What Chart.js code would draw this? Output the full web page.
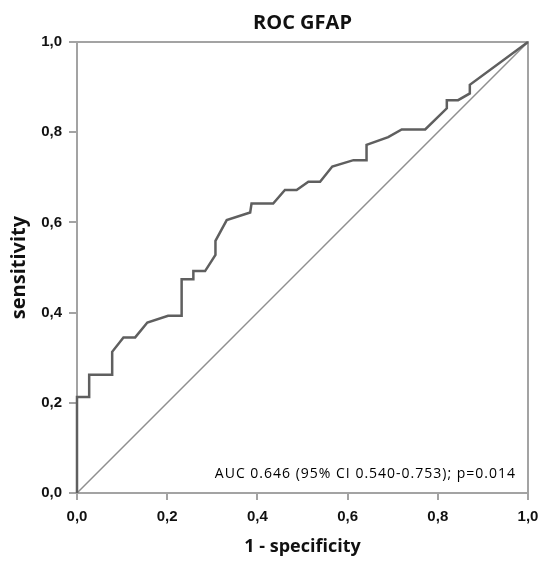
<!DOCTYPE html>
<html>
<head>
<meta charset="utf-8">
<script src="https://cdn.jsdelivr.net/npm/chart.js@4.4.1/dist/chart.umd.min.js"></script>
<style>
  html, body { margin: 0; padding: 0; background: #fff; }
  #wrap { width: 542px; height: 561px; }
</style>
</head>
<body>
<div id="wrap"><canvas id="roc"></canvas></div>
<script>
// ROC curve vertices (1 - specificity, sensitivity)
const fpr = [0, 0, 0.027, 0.027, 0.078, 0.078, 0.103, 0.129, 0.156, 0.202, 0.232, 0.232,
  0.258, 0.258, 0.284, 0.307, 0.307, 0.332, 0.384, 0.387, 0.435, 0.461, 0.487, 0.513,
  0.539, 0.566, 0.613, 0.642, 0.642, 0.690, 0.720, 0.772, 0.820, 0.820, 0.845, 0.871,
  0.871, 1];
const tpr = [0, 0.213, 0.213, 0.262, 0.262, 0.313, 0.345, 0.345, 0.378, 0.393, 0.393, 0.474,
  0.474, 0.492, 0.492, 0.528, 0.559, 0.605, 0.622, 0.642, 0.642, 0.672, 0.672, 0.690,
  0.690, 0.724, 0.738, 0.738, 0.772, 0.789, 0.806, 0.806, 0.853, 0.871, 0.871, 0.886,
  0.905, 1];
const refLine = [0, 1];
const tickValues = [0, 0.2, 0.4, 0.6, 0.8, 1.0];

const chartTitle = 'ROC GFAP';
const xTitle = '1 - specificity';
const yTitle = 'sensitivity';
const aucText = 'AUC 0.646 (95% CI 0.540-0.753); p=0.014';

const AXIS_GREY = '#a3a3a3';
const tickFont = { family: '"Liberation Sans", Arial, sans-serif', size: 15, weight: 'bold' };

// frame round the plot area (top and right sides too)
const framePlugin = {
  id: 'frame',
  beforeDatasetsDraw(chart) {
    const { ctx, chartArea: a } = chart;
    ctx.save();
    ctx.strokeStyle = AXIS_GREY;
    ctx.lineWidth = 2;
    ctx.strokeRect(a.left, a.top, a.right - a.left, a.bottom - a.top);
    ctx.restore();
  }
};

// AUC note in the lower right corner
const aucPlugin = {
  id: 'auc',
  afterDraw(chart) {
    const { ctx, chartArea: a } = chart;
    ctx.save();
    ctx.font = '14px "Open Sans", sans-serif';
    ctx.letterSpacing = '1px';
    ctx.fillStyle = '#000';
    ctx.textAlign = 'right';
    ctx.textBaseline = 'alphabetic';
    ctx.fillText(aucText, a.right - 12, a.bottom - 15);
    ctx.restore();
  }
};

const points = fpr.map((x, i) => ({ x: x, y: tpr[i] }));
const diag = refLine.map(v => ({ x: v, y: v }));

new Chart(document.getElementById('roc'), {
  type: 'scatter',
  data: {
    datasets: [
      {
        data: diag,
        showLine: true,
        borderColor: '#8f8f8f',
        borderWidth: 1.5,
        pointRadius: 0,
        order: 2
      },
      {
        data: points,
        showLine: true,
        borderColor: '#5f5f5f',
        borderWidth: 2.5,
        pointRadius: 0,
        tension: 0,
        clip: 4,
        order: 1
      }
    ]
  },
  options: {
    responsive: true,
    maintainAspectRatio: false,
    animation: false,
    events: [],
    layout: { padding: { left: 0, right: 14, top: 0, bottom: 0 } },
    plugins: {
      legend: { display: false },
      tooltip: { enabled: false },
      title: {
        display: true,
        text: chartTitle,
        fullSize: false,
        color: '#111',
        font: { family: '"Open Sans", sans-serif', size: 20, weight: 'bold' },
        padding: { top: 11, bottom: 7 }
      }
    },
    scales: {
      x: {
        type: 'linear',
        min: 0,
        max: 1,
        afterBuildTicks: (s) => { s.ticks = tickValues.map(v => ({ value: v })); },
        afterFit: (s) => { s.height = 68; s.paddingLeft = 0; s.paddingRight = 0; },
        ticks: {
          color: '#111',
          font: tickFont,
          padding: 8,
          maxRotation: 0,
          callback: (v) => v.toFixed(1).replace('.', ',')
        },
        grid: { display: true, drawOnChartArea: false, drawTicks: true, tickLength: 7, color: AXIS_GREY, lineWidth: 2 },
        border: { display: true, color: AXIS_GREY, width: 2 },
        title: {
          display: true,
          text: xTitle,
          color: '#111',
          font: { family: '"Open Sans", sans-serif', size: 18, weight: 'bold' },
          padding: { top: 0, bottom: 3 }
        }
      },
      y: {
        type: 'linear',
        min: 0,
        max: 1,
        afterBuildTicks: (s) => { s.ticks = tickValues.map(v => ({ value: v })); },
        afterFit: (s) => { s.width = 77; s.paddingTop = 0; s.paddingBottom = 0; },
        ticks: {
          color: '#111',
          font: tickFont,
          padding: 7,
          callback: (v) => v.toFixed(1).replace('.', ',')
        },
        grid: { display: true, drawOnChartArea: false, drawTicks: true, tickLength: 8, color: AXIS_GREY, lineWidth: 2 },
        border: { display: true, color: AXIS_GREY, width: 2 },
        title: {
          display: true,
          text: yTitle,
          color: '#111',
          font: { family: '"Open Sans", sans-serif', size: 20, weight: 'bold' },
          padding: { top: 7, bottom: 0 }
        }
      }
    }
  },
  plugins: [framePlugin, aucPlugin]
});
</script>
</body>
</html>
